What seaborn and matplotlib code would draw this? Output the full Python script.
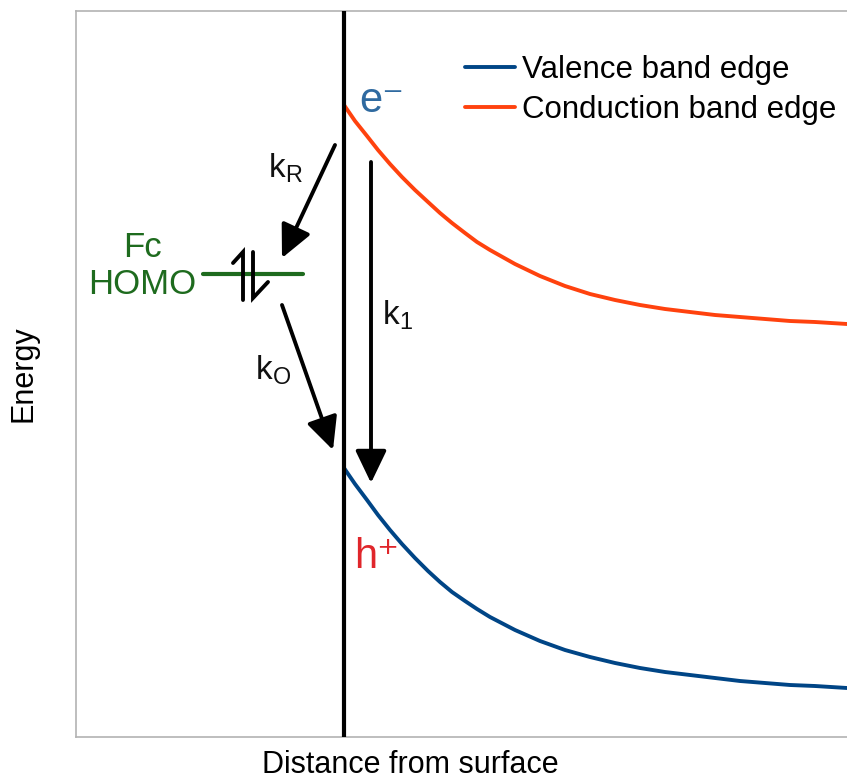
import numpy as np
import pandas as pd
import matplotlib
matplotlib.use("Agg")
import matplotlib.pyplot as plt
import seaborn as sns

# Band-edge profiles versus distance from the surface (arbitrary units)
distance = [0.00, 0.11, 0.23, 0.34, 0.46, 0.58, 0.71, 0.84, 0.96, 1.08, 1.21, 1.33,
            1.46, 1.71, 1.96, 2.21, 2.46, 2.71, 2.96, 3.21, 3.46, 3.71, 3.96, 4.21,
            4.46, 4.71, 5.03]
valence_edge = [2.69, 2.53, 2.37, 2.22, 2.07, 1.93, 1.79, 1.66, 1.55, 1.45, 1.36, 1.28,
                1.20, 1.07, 0.96, 0.87, 0.80, 0.74, 0.69, 0.65, 0.62, 0.59, 0.56, 0.54,
                0.52, 0.51, 0.49]
conduction_edge = [6.32, 6.16, 6.01, 5.87, 5.73, 5.60, 5.47, 5.35, 5.24, 5.14, 5.04, 4.95,
                   4.87, 4.73, 4.61, 4.51, 4.43, 4.37, 4.32, 4.28, 4.25, 4.22, 4.20, 4.18,
                   4.16, 4.15, 4.13]
band_names = ["Valence band edge", "Conduction band edge"]
band_colors = ["#004586", "#ff420e"]

# Ferrocene HOMO level and its span in front of the surface
homo_level = 4.63
homo_span = [-1.41, -0.41]

# Charge-transfer processes: (label, tail, head)
transfers = [
    ("k$_R$", (-0.09, 5.92), (-0.62, 4.79)),
    ("k$_O$", (-0.62, 4.32), (-0.11, 2.87)),
    ("k$_1$", (0.27, 5.75), (0.27, 2.54)),
]
transfer_label_pos = [(-0.76, 5.59), (-0.89, 3.57), (0.38, 4.12)]

# Paired electrons in the HOMO: (stem bottom, stem top, barb end)
electron_up = [(-1.01, 4.37), (-1.01, 4.85), (-1.11, 4.74)]
electron_down = [(-0.91, 4.85), (-0.91, 4.39), (-0.76, 4.55)]

sns.set_theme(style="white")
plt.rcParams["font.family"] = ["Liberation Sans", "DejaVu Sans"]
plt.rcParams["mathtext.default"] = "regular"
plt.rcParams["text.color"] = "black"
plt.rcParams["axes.labelcolor"] = "black"

fig = plt.figure(figsize=(8.47, 7.83), dpi=100)
ax = fig.add_axes([76 / 847, 46 / 783, 771 / 847, 726 / 783])

df = pd.DataFrame({
    "distance": distance * 2,
    "energy": valence_edge + conduction_edge,
    "band": [band_names[0]] * len(distance) + [band_names[1]] * len(distance),
})
sns.lineplot(data=df, x="distance", y="energy", hue="band", hue_order=band_names,
             palette=band_colors, linewidth=2.8, ax=ax, legend=True, zorder=3)

ax.set_xlim(-2.68, 5.03)
ax.set_ylim(0, 7.26)
ax.set_xticks([])
ax.set_yticks([])
for side in ["left", "top", "bottom"]:
    ax.spines[side].set_color("#b3b3b3")
    ax.spines[side].set_linewidth(1.2)
ax.spines["right"].set_visible(False)

# Semiconductor surface
ax.axvline(0, color="black", lw=3.0, zorder=4)

# HOMO level with its two electrons
ax.plot(homo_span, [homo_level, homo_level], color="#1e6b1e", lw=3.0, zorder=3)
for stroke in (electron_up, electron_down):
    xs = [stroke[0][0], stroke[1][0], stroke[2][0]]
    ys = [stroke[0][1], stroke[1][1], stroke[2][1]]
    ax.plot(xs, ys, color="black", lw=2.8, solid_capstyle="round",
            solid_joinstyle="miter", zorder=5)
ax.text(-2.02, 4.71, "Fc\nHOMO", color="#1e6b1e", fontsize=25, ha="center",
        va="center", linespacing=1.15)

# Transfer arrows
for (label, tail, head), lpos in zip(transfers, transfer_label_pos):
    ax.annotate("", xy=head, xytext=tail,
                arrowprops=dict(arrowstyle="-|>,head_length=1.0,head_width=0.48",
                                mutation_scale=20, color="black", lw=2.8,
                                shrinkA=0, shrinkB=0))
    ax.text(lpos[0], lpos[1], label, fontsize=24, ha="left", va="baseline", color="#111111")

# Carriers
ax.text(0.15, 6.25, "e\u207b", color="#2f6aa0", fontsize=30, ha="left", va="baseline",
        family=["Liberation Sans", "DejaVu Sans"])
ax.text(0.10, 1.69, "h\u207a", color="#e0262b", fontsize=30, ha="left", va="baseline",
        family=["Liberation Sans", "DejaVu Sans"])

leg = ax.legend(loc="upper left", bbox_to_anchor=((465 - 76) / 771, (737 - 55) / 726),
                frameon=False, fontsize=22.5, handlelength=1.6, handletextpad=0.22,
                labelspacing=0.33, borderpad=0, borderaxespad=0, title=None)
for t in leg.get_texts():
    t.set_color("black")

ax.set_xlabel("Distance from surface", fontsize=22, color="black")
ax.xaxis.set_label_coords((410 - 76) / 771, -0.018)
ax.set_ylabel("Energy", fontsize=22, color="black")
ax.yaxis.set_label_coords(-0.049, 0.5)

fig.savefig("out.png", dpi=100)
